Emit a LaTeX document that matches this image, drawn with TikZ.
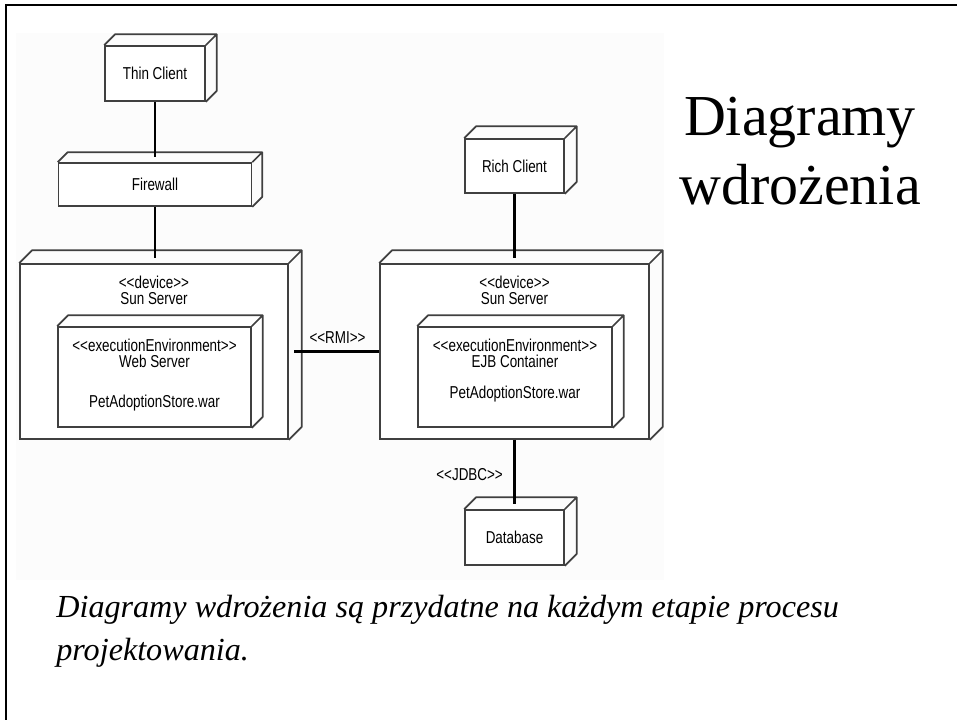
\documentclass[tikz,border=0pt]{standalone}
\usepackage{fontspec}
\setmainfont{Liberation Serif}
\newfontfamily\diagfont[FakeStretch=0.78]{Liberation Sans}
\newcommand\stereo[1]{<\kern0pt<#1>\kern0pt>}

\begin{document}
\begin{tikzpicture}[x=0.02cm,y=-0.02cm,
    devbox/.style={draw=black!75,line width=0.95pt,fill=white,inner sep=0pt},
    edge3d/.style={draw=black!75,line width=0.95pt,line join=round},
    lbl/.style={font=\diagfont\fontsize{9.8}{9.2}\selectfont,text=black,align=center,inner sep=1pt},
    link/.style={line width=1.3pt,shorten >=3pt}]
     \useasboundingbox (0,0) rectangle (957,720);
     \fill[black!1] (16,33) rectangle (664,580);
     \draw[line width=1.7pt] (6,720) -- (6,5) -- (957,5);

     \node[devbox,minimum width=2cm,minimum height=1.1cm] (thin) at (155,73.5) {};
     \node[lbl] (thintxt) at (thin.center) {Thin Client};
     \node[devbox,minimum width=3.86cm,minimum height=0.86cm] (fire) at (155,184.5) {};
     \node[lbl] (firetxt) at (fire.center) {Firewall};
     \node[devbox,minimum width=5.36cm,minimum height=3.5cm] (lsrv) at (154,351.5) {};
     \node[lbl] (lsrvtxt) at (154,290) {\stereo{device}\\Sun Server};
     \node[devbox,minimum width=3.86cm,minimum height=2cm] (lenv) at (154.5,377) {};
     \node[lbl] (lenvtxt) at (154.5,353) {\stereo{executionEnvironment}\\Web Server};
     \node[lbl] (lwar) at (154.5,403) {PetAdoptionStore.war};

     \node[devbox,minimum width=1.98cm,minimum height=1.08cm] (rich) at (514.5,166) {};
     \node[lbl] (richtxt) at (rich.center) {Rich Client};
     \node[devbox,minimum width=5.38cm,minimum height=3.5cm] (rsrv) at (514.5,351.5) {};
     \node[lbl] (rsrvtxt) at (514.5,290) {\stereo{device}\\Sun Server};
     \node[devbox,minimum width=3.88cm,minimum height=2cm] (renv) at (515,377) {};
     \node[lbl] (renvtxt) at (515,353) {\stereo{executionEnvironment}\\EJB Container};
     \node[lbl] (rwar) at (515,394) {PetAdoptionStore.war};
     \node[devbox,minimum width=1.98cm,minimum height=1.1cm] (db) at (514.5,537.5) {};
     \node[lbl] (dbtxt) at (db.center) {Database};

     \foreach \n/\d in {thin/11,fire/10,lsrv/13,lenv/11,rich/12,rsrv/13,renv/11,db/12}
       \draw[edge3d] (\n.north west) -- ++(\d,-\d) -- ([shift={(\d,-\d)}]\n.north east)
         -- ([shift={(\d,-\d)}]\n.south east) -- (\n.south east)
         (\n.north east) -- ++(\d,-\d);

     \draw[link] (thin.south) -- (thin.south |- fire.north);
     \draw[link] (fire.south) -- (fire.south |- lsrv.north);
     \draw[link] (rich.south) -- (rich.south |- rsrv.north);
     \draw[link] (rsrv.south) -- (rsrv.south |- db.north)
       node[lbl,midway,left=5pt] (jdbc) {\stereo{JDBC}};
     \draw[link,shorten >=0pt,shorten <=3pt] (lsrv.east) -- (rsrv.west)
       node[lbl,midway,above=3pt,xshift=2pt] (rmi) {\stereo{RMI}};

     \node[font=\fontsize{33}{39.1}\selectfont,align=center,anchor=base] (title) at (800,204)
       {Diagramy\\wdrożenia};
     \node[font=\itshape\fontsize{18.3}{24.4}\selectfont,align=left,anchor=base west,inner sep=0pt] (note) at (56,660)
       {Diagramy wdrożenia są przydatne na każdym etapie procesu\\projektowania.};
    \end{tikzpicture}
\end{document}
